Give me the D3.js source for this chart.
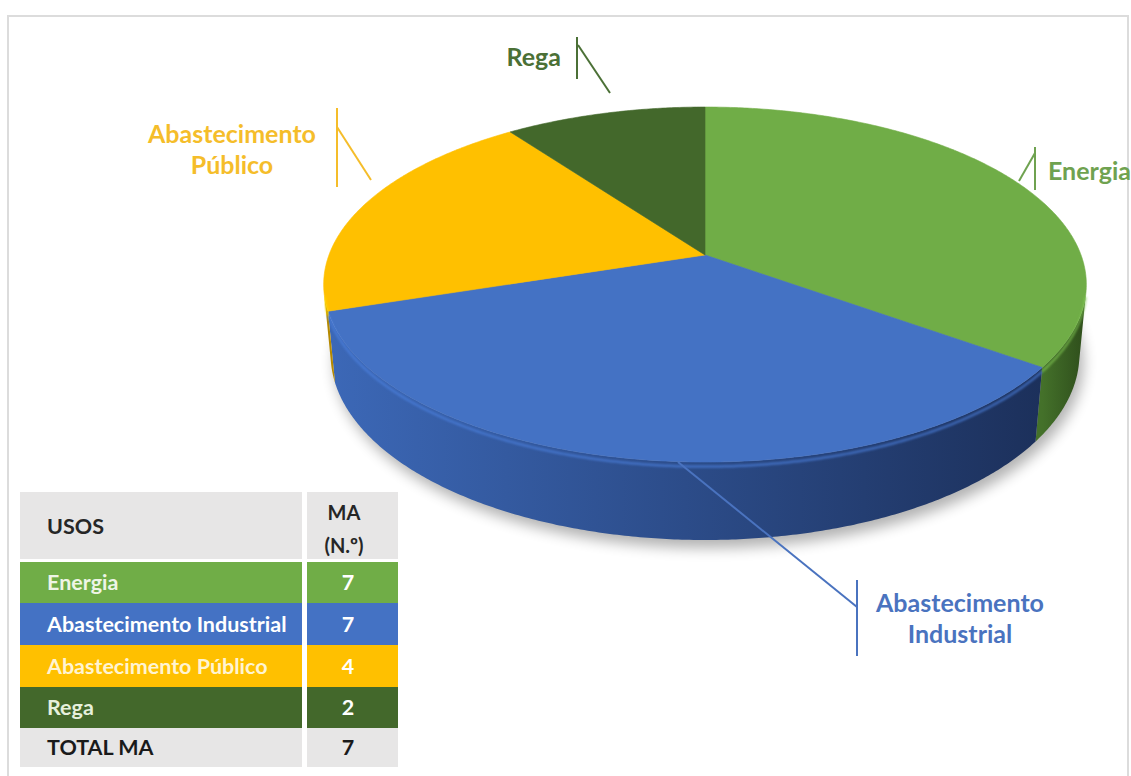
<!DOCTYPE html>
<html>
<head>
<meta charset="utf-8">
<script src="https://cdn.jsdelivr.net/npm/d3@7"></script>
<style>
  body { margin: 0; background: #fff; }
  svg { display: block; font-family: Lato, "Open Sans", sans-serif; }
</style>
</head>
<body>
<div id="chart"></div>
<script>
// dados
const usos = ["Energia", "Abastecimento Industrial", "Abastecimento Público", "Rega"];
const numMA = [7, 7, 4, 2];
const totalMA = 7;
const cores = ["#70ad47", "#4472c4", "#ffc000", "#43682b"];
const coresLateral = [["#44712a", "#2e4d1b"], ["#3c68b7", "#1c305b"], ["#d6a200", "#b58900"], ["#34521f", "#2a431a"]];
const coresRotulo = ["#6fa250", "#4a73bf", "#f5bd2a", "#4b7036"];
const coresTextoTabela = ["#eef5e6", "#ffffff", "#fff4d2", "#e6f0dc"];

var width = 1131, height = 776;

var svg = d3.select("#chart").append("svg")
  .attr("width", width)
  .attr("height", height);

var defs = svg.append("defs");
defs.append("filter").attr("id", "sombra").attr("x", "-20%").attr("y", "-20%").attr("width", "140%").attr("height", "160%")
  .append("feGaussianBlur").attr("stdDeviation", 7);
defs.append("filter").attr("id", "brilho")
  .append("feGaussianBlur").attr("stdDeviation", 1.2);

// moldura
svg.append("rect")
  .attr("x", 8).attr("y", 16)
  .attr("width", 1120).attr("height", 800)
  .attr("fill", "none")
  .attr("stroke", "#dcdcdc")
  .attr("stroke-width", 2);

// ---- pizza 3D (projecao em perspectiva) ----
var cx = 705, cy = 255;
var foco = 2008, dist = 5.34, inclin = Math.asin(0.459), espessura = 0.21;
var sinT = Math.sin(inclin), cosT = Math.cos(inclin);

var xScale = d3.scaleLinear().domain([0, 1]).range([cx, cx + foco]);
var yScale = d3.scaleLinear().domain([0, 1]).range([cy, cy - foco]);

function proj(a, r, y) {
  var X = r * Math.sin(a), Z = r * Math.cos(a);
  var yc = Z * sinT + y * cosT;
  var d = Z * cosT - y * sinT + dist;
  return [xScale(X / d), yScale(yc / d)];
}

function arco(a0, a1, y) {
  var n = Math.max(2, Math.ceil((a1 - a0) / (Math.PI / 360)));
  return d3.range(n + 1).map(function(i) { return proj(a0 + (a1 - a0) * i / n, 1, y); });
}

var linha = d3.line();
var pie = d3.pie().sort(null).value(function(d) { return d; });
var fatias = pie(numMA);

// parte visivel da lateral: cos(a) < -1/(dist*cos t)
var aLim = Math.acos(-1 / (dist * cosT));
var aMin = aLim, aMax = 2 * Math.PI - aLim;

// sombra
var sombraPts = arco(0, 2 * Math.PI, -espessura);
svg.append("path")
  .attr("d", linha(sombraPts) + "Z")
  .attr("transform", "translate(4,8)")
  .attr("fill", "#000")
  .attr("opacity", 0.3)
  .attr("filter", "url(#sombra)");

var gPie = svg.append("g");

// laterais
fatias.forEach(function(s, i) {
  var a0 = Math.max(s.startAngle, aMin), a1 = Math.min(s.endAngle, aMax);
  if (a1 <= a0) return;
  var topo = arco(a0, a1, 0);
  var base = arco(a0, a1, -espessura).reverse();
  var xs = topo.map(function(p) { return p[0]; });
  var grad = defs.append("linearGradient")
    .attr("id", "lat" + i)
    .attr("gradientUnits", "userSpaceOnUse")
    .attr("x1", d3.min(xs)).attr("x2", d3.max(xs))
    .attr("y1", 0).attr("y2", 0);
  grad.append("stop").attr("offset", 0).attr("stop-color", coresLateral[i][0]);
  grad.append("stop").attr("offset", 1).attr("stop-color", coresLateral[i][1]);
  gPie.append("path")
    .attr("d", linha(topo.concat(base)) + "Z")
    .attr("fill", "url(#lat" + i + ")");
});

// topo
fatias.forEach(function(s, i) {
  var pts = [proj(0, 0, 0)].concat(arco(s.startAngle, s.endAngle, 0));
  gPie.append("path")
    .attr("d", linha(pts) + "Z")
    .attr("fill", cores[i])
    .attr("stroke", cores[i])
    .attr("stroke-width", 0.6);
});

// brilho na borda frontal
fatias.forEach(function(s, i) {
  var a0 = Math.max(s.startAngle, aMin), a1 = Math.min(s.endAngle, aMax);
  if (a1 <= a0) return;
  gPie.append("path")
    .attr("d", linha(arco(a0, a1, -0.012)))
    .attr("fill", "none")
    .attr("stroke", d3.color(cores[i]).brighter(0.4))
    .attr("stroke-width", 2.5)
    .attr("opacity", 0.65)
    .attr("filter", "url(#brilho)");
});

// ---- rotulos com linhas de chamada ----
const rotulos = [
  { x: 1048, y: 180, anchor: "start", v: [[1035, 147], [1035, 190]], dg: [[1035, 153], [1019, 181]] },
  { x: 960, y: 612, anchor: "middle", v: [[857, 580], [857, 656]], dg: [[857, 607], [678, 462]] },
  { x: 232, y: 143, anchor: "middle", v: [[337, 108], [337, 187]], dg: [[337, 127], [371, 180]] },
  { x: 561, y: 66, anchor: "end", v: [[577, 37], [577, 79]], dg: [[578, 45], [610, 93]] }
];

var gRot = svg.append("g");
rotulos.forEach(function(r, i) {
  gRot.append("path").attr("d", linha(r.v)).attr("stroke", coresRotulo[i]).attr("stroke-width", 2).attr("fill", "none");
  gRot.append("path").attr("d", linha(r.dg)).attr("stroke", coresRotulo[i]).attr("stroke-width", 2).attr("fill", "none");
  var palavras = usos[i].split(" ");
  var t = gRot.append("text")
    .attr("x", r.x).attr("y", r.y)
    .attr("text-anchor", r.anchor)
    .attr("fill", coresRotulo[i])
    .attr("font-size", 25)
    .attr("font-weight", "bold");
  palavras.forEach(function(p, j) {
    t.append("tspan").attr("x", r.x).attr("dy", j === 0 ? 0 : 31).text(p);
  });
});

// ---- tabela ----
var tx0 = 20, tx1 = 302, tx2 = 307, tx3 = 398;
var fonteTab = 21.5;
var gTab = svg.append("g");

// cabecalho
gTab.append("rect").attr("x", tx0).attr("y", 492).attr("width", tx1 - tx0).attr("height", 67).attr("fill", "#e7e6e6");
gTab.append("rect").attr("x", tx2).attr("y", 492).attr("width", tx3 - tx2).attr("height", 67).attr("fill", "#e7e6e6");
gTab.append("text").attr("x", 47).attr("y", 534).attr("font-size", fonteTab).attr("font-weight", "bold").attr("fill", "#262626").text("USOS");
gTab.append("text").attr("x", 344).attr("y", 520).attr("text-anchor", "middle").attr("font-size", 20).attr("font-weight", "bold").attr("fill", "#262626").text("MA");
gTab.append("text").attr("x", 344).attr("y", 553).attr("text-anchor", "middle").attr("font-size", 20).attr("font-weight", "bold").attr("fill", "#262626").text("(N.º)");

var linhasY = [562, 603, 645, 687];
var alturas = [41, 42, 42, 41];
usos.forEach(function(u, i) {
  gTab.append("rect").attr("x", tx0).attr("y", linhasY[i]).attr("width", tx1 - tx0).attr("height", alturas[i]).attr("fill", cores[i]);
  gTab.append("rect").attr("x", tx2).attr("y", linhasY[i]).attr("width", tx3 - tx2).attr("height", alturas[i]).attr("fill", cores[i]);
  gTab.append("text").attr("x", 47).attr("y", linhasY[i] + alturas[i] / 2 + 7.5)
    .attr("font-size", fonteTab).attr("font-weight", "bold").attr("fill", coresTextoTabela[i]).text(u);
  gTab.append("text").attr("x", 348).attr("y", linhasY[i] + alturas[i] / 2 + 7.5)
    .attr("text-anchor", "middle").attr("font-size", fonteTab).attr("font-weight", "bold").attr("fill", "#ffffff").text(numMA[i]);
});

gTab.append("rect").attr("x", tx0).attr("y", 728).attr("width", tx1 - tx0).attr("height", 39).attr("fill", "#e7e6e6");
gTab.append("rect").attr("x", tx2).attr("y", 728).attr("width", tx3 - tx2).attr("height", 39).attr("fill", "#e7e6e6");
gTab.append("text").attr("x", 47).attr("y", 755).attr("font-size", fonteTab).attr("font-weight", "bold").attr("fill", "#1a1a1a").text("TOTAL MA");
gTab.append("text").attr("x", 348).attr("y", 755).attr("text-anchor", "middle").attr("font-size", fonteTab).attr("font-weight", "bold").attr("fill", "#1a1a1a").text(totalMA);
</script>
</body>
</html>
